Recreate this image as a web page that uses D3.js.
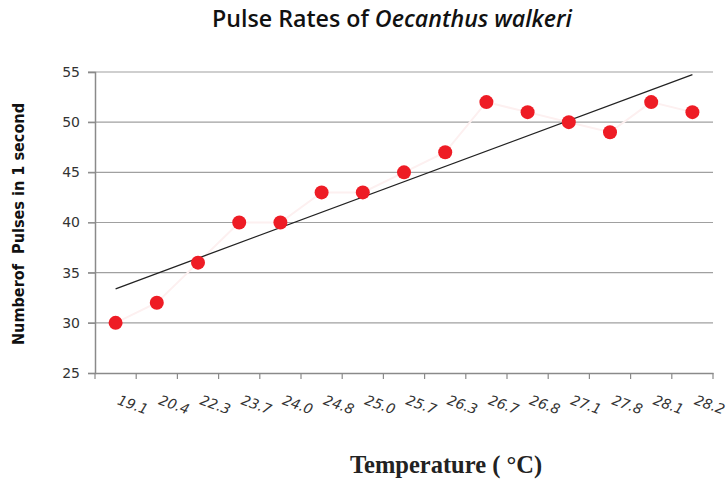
<!DOCTYPE html>
<html><head><meta charset="utf-8">
<script src="https://cdn.jsdelivr.net/npm/d3@7"></script>
<style>body{margin:0;background:#fff}svg{display:block}</style>
</head><body>
<script>
const temps = ["19.1","20.4","22.3","23.7","24.0","24.8","25.0","25.7","26.3","26.7","26.8","27.1","27.8","28.1","28.2"];
const pulses = [30,32,36,40,40,43,43,45,47,52,51,50,49,52,51];
const yTicks = [25,30,35,40,45,50,55];

const W=727,H=483;
const m={left:95,right:14,top:72,bottom:110};
const svg=d3.select("body").append("svg").attr("width",W).attr("height",H);
const x=d3.scaleBand().domain(temps).range([m.left,W-m.right]);
const y=d3.scaleLinear().domain([25,55]).range([H-m.bottom,m.top]);

// gridlines
svg.append("g").selectAll("line").data(yTicks.slice(1)).join("line")
  .attr("x1",m.left-7).attr("x2",W-m.right)
  .attr("y1",d=>y(d)).attr("y2",d=>y(d))
  .attr("stroke","#a0a0a0").attr("stroke-width",1.2);

// y axis
const ya=svg.append("g").attr("transform",`translate(${m.left},0)`)
  .call(d3.axisLeft(y).tickValues(yTicks).tickSize(7).tickPadding(8));
ya.select(".domain").attr("stroke","#8a8a8a").attr("stroke-width",1.5);
ya.selectAll(".tick line").attr("stroke","#8a8a8a").attr("stroke-width",1.2);
ya.selectAll("text").attr("font-family","DejaVu Sans, Verdana, sans-serif").attr("font-size",14).attr("fill","#333");

// x axis
const xa=svg.append("g").attr("transform",`translate(0,${y(25)})`)
  .call(d3.axisBottom(x).tickSize(0).tickFormat(""));
xa.select(".domain").attr("stroke","#8a8a8a").attr("stroke-width",1.5);
const bounds=temps.map(t=>x(t)).concat([x(temps[temps.length-1])+x.bandwidth()]);
xa.selectAll(".bt").data(bounds).join("line").attr("class","bt")
  .attr("x1",d=>d).attr("x2",d=>d).attr("y1",0).attr("y2",6)
  .attr("stroke","#8a8a8a").attr("stroke-width",1.2);
xa.selectAll(".lbl").data(temps).join("text").attr("class","lbl")
  .attr("text-anchor","start")
  .attr("transform",d=>`translate(${x(d)+x.bandwidth()/2+1},31) rotate(20)`)
  .attr("font-family","DejaVu Sans, Verdana, sans-serif").attr("font-style","italic")
  .attr("font-size",14).attr("fill","#333").text(d=>d);

// faint connecting line
const pts=temps.map((t,i)=>[x(t)+x.bandwidth()/2,y(pulses[i])]);
svg.append("path").attr("d",d3.line()(pts)).attr("fill","none")
  .attr("stroke","#fdf0f0").attr("stroke-width",2);

// trend line (least squares on index)
const n=pulses.length, xm=(n+1)/2, ym=d3.mean(pulses);
let sxy=0,sxx=0; pulses.forEach((v,i)=>{sxy+=(i+1-xm)*(v-ym);sxx+=(i+1-xm)**2;});
const b=sxy/sxx, a=ym-b*xm;
svg.append("line")
  .attr("x1",pts[0][0]).attr("y1",y(a+b*1))
  .attr("x2",pts[n-1][0]).attr("y2",y(a+b*n))
  .attr("stroke","#222").attr("stroke-width",1.3);

// points
svg.selectAll(".pt").data(pts).join("circle").attr("class","pt")
  .attr("cx",d=>d[0]).attr("cy",d=>d[1]).attr("r",7).attr("fill","#ee1c25");

// title
const t=svg.append("text").attr("x",392).attr("y",27).attr("text-anchor","middle")
  .attr("font-family","Open Sans, Noto Sans, sans-serif").attr("font-weight",600)
  .attr("font-size",18).attr("fill","#111");
t.append("tspan").text("Pulse Rates of ");
t.append("tspan").attr("font-style","italic").text("Oecanthus walkeri");
const tw=t.node().getComputedTextLength();
t.attr("font-size",18*360/tw);

// y title
svg.append("text").attr("transform","translate(24,224) rotate(-90)").attr("text-anchor","middle")
  .attr("font-family","DejaVu Sans Condensed, DejaVu Sans, sans-serif").attr("font-weight","bold")
  .attr("font-size",16).attr("fill","#111").attr("xml:space","preserve")
  .attr("textLength",242).attr("lengthAdjust","spacingAndGlyphs")
  .text("Numberof  Pulses in 1 second");

// x title
svg.append("text").attr("x",446).attr("y",473).attr("text-anchor","middle")
  .attr("font-family","Liberation Serif, DejaVu Serif, serif").attr("font-weight","bold")
  .attr("font-size",24.5).attr("fill","#222").text("Temperature ( °C)");
</script>
</body></html>
